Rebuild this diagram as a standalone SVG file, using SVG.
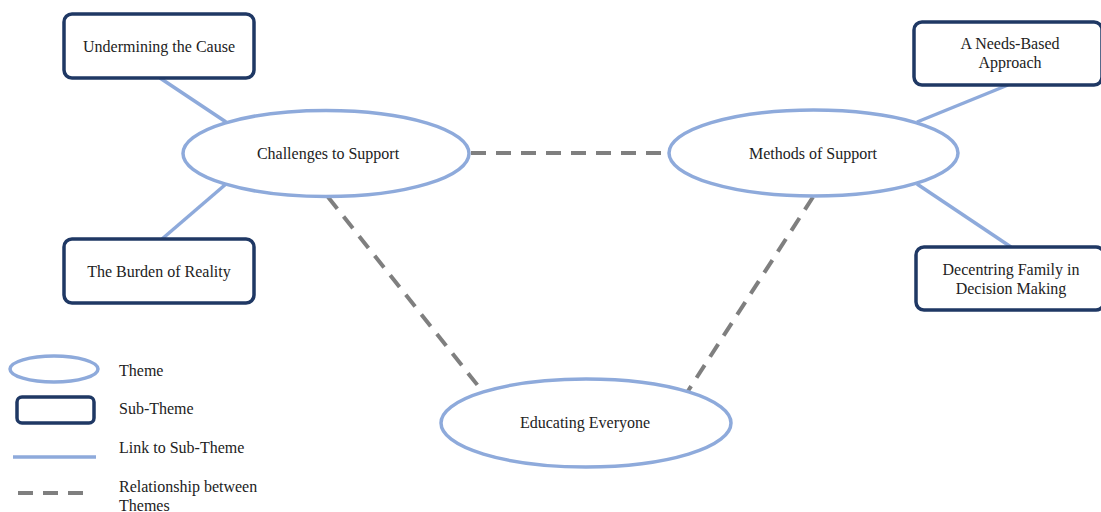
<svg xmlns="http://www.w3.org/2000/svg" width="1101" height="512" viewBox="0 0 1101 512">
  <style>
    text { font-family: 'Liberation Serif', serif; font-size: 16px; fill: #222; }
    .c { text-anchor: middle; }
    .theme { fill: #fff; stroke: #8EAADB; stroke-width: 3.5; }
    .sub { fill: #fff; stroke: #1F3864; stroke-width: 3.5; }
    .link { stroke: #8EAADB; stroke-width: 3.5; fill: none; }
    .rel { stroke: #7F7F7F; stroke-width: 4; fill: none; stroke-dasharray: 15 10; }
  </style>
  <rect width="1101" height="512" fill="#fff"/>

  <!-- connectors -->
  <g id="connectors">
    <line class="link" x1="160" y1="78" x2="226" y2="122"/>
    <line class="link" x1="226" y1="184" x2="162" y2="239"/>
    <line class="link" x1="1008" y1="85" x2="917" y2="122"/>
    <line class="link" x1="917" y1="184" x2="1011" y2="247"/>
    <line class="rel" x1="471" y1="153" x2="669" y2="153"/>
    <line class="rel" x1="328" y1="197" x2="483" y2="392"/>
    <line class="rel" x1="813" y1="197" x2="688" y2="391"/>
  </g>

  <!-- themes -->
  <g id="challenges">
    <ellipse class="theme" cx="326" cy="153.5" rx="143" ry="43"/>
    <text class="c" x="328" y="159">Challenges to Support</text>
  </g>
  <g id="methods">
    <ellipse class="theme" cx="813.5" cy="153" rx="144.5" ry="43"/>
    <text class="c" x="813" y="159">Methods of Support</text>
  </g>
  <g id="educating">
    <ellipse class="theme" cx="586" cy="423" rx="145" ry="44"/>
    <text class="c" x="585" y="428">Educating Everyone</text>
  </g>

  <!-- sub-themes -->
  <g id="undermining">
    <rect class="sub" x="64" y="14" width="190" height="64" rx="8"/>
    <text class="c" x="159" y="52">Undermining the Cause</text>
  </g>
  <g id="burden">
    <rect class="sub" x="64" y="239" width="190" height="64" rx="8"/>
    <text class="c" x="159" y="277">The Burden of Reality</text>
  </g>
  <g id="needs">
    <rect class="sub" x="914" y="22" width="188" height="63" rx="8"/>
    <text class="c" x="1010" y="49">A Needs-Based</text>
    <text class="c" x="1010" y="68">Approach</text>
  </g>
  <g id="decentring">
    <rect class="sub" x="916" y="247" width="188" height="63" rx="8"/>
    <text class="c" x="1011" y="275">Decentring Family in</text>
    <text class="c" x="1011" y="294">Decision Making</text>
  </g>

  <!-- legend -->
  <g id="legend">
    <ellipse class="theme" cx="54" cy="369" rx="44" ry="13"/>
    <text x="119" y="376">Theme</text>
    <rect class="sub" x="17" y="397" width="77" height="26" rx="5"/>
    <text x="119" y="414">Sub-Theme</text>
    <line class="link" x1="13" y1="457" x2="96" y2="457"/>
    <text x="119" y="453">Link to Sub-Theme</text>
    <line class="rel" x1="18" y1="493" x2="87" y2="493" stroke-dasharray="15 12"/>
    <text x="119" y="492">Relationship between</text>
    <text x="119" y="511">Themes</text>
  </g>
</svg>
